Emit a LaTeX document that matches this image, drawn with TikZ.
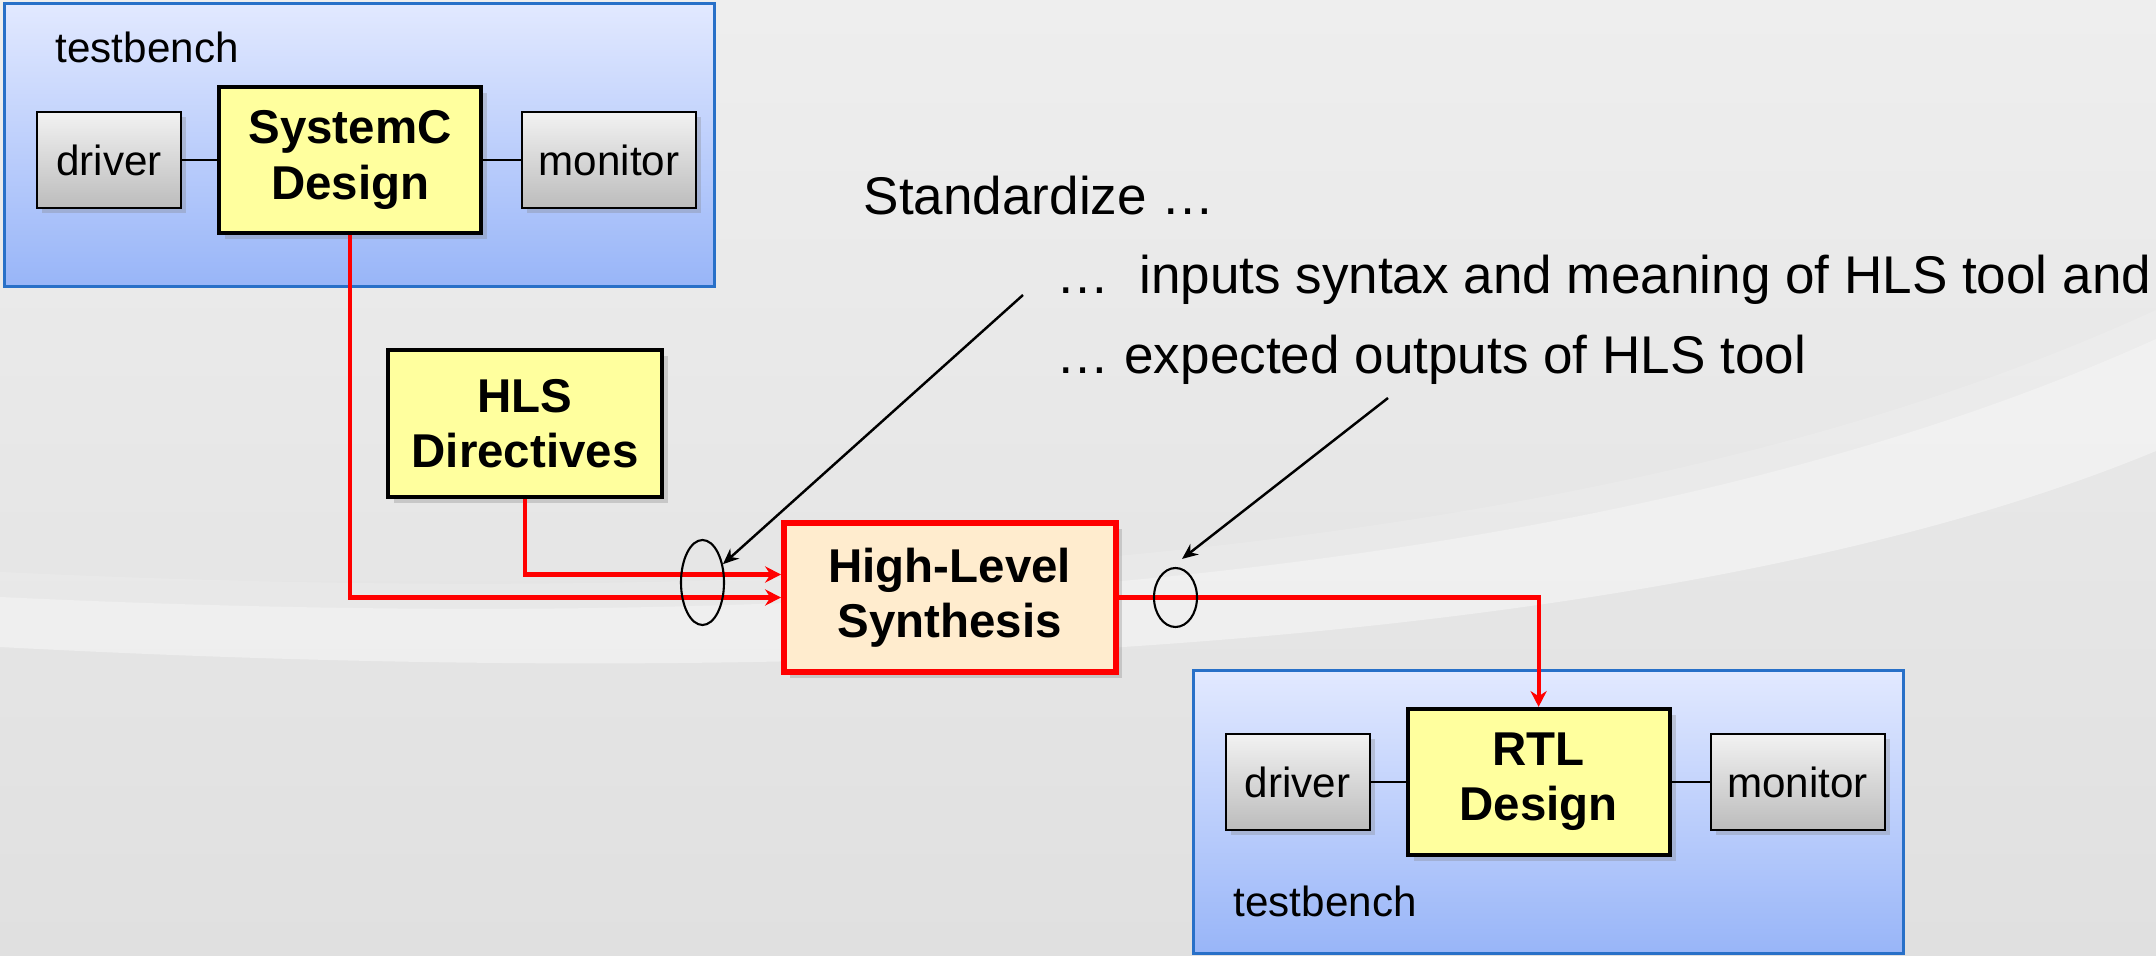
\documentclass[tikz,border=0pt]{standalone}
\usepackage{fontspec}
\setmainfont{Liberation Sans}
\usetikzlibrary{arrows.meta, shadows, shapes.geometric}
\definecolor{slidetop}{RGB}{238,238,238}
\definecolor{slidebottom}{RGB}{224,224,224}
\definecolor{benchtop}{RGB}{226,233,255}
\definecolor{benchbottom}{RGB}{152,181,248}
\definecolor{benchedge}{RGB}{40,112,200}
\definecolor{helpertop}{RGB}{242,242,242}
\definecolor{helperbottom}{RGB}{188,188,188}
\definecolor{designfill}{RGB}{255,255,158}
\definecolor{hlsfill}{RGB}{255,236,206}
\definecolor{flowred}{RGB}{255,0,0}
\newcommand{\plainfont}{\fontsize{12}{14}\selectfont}
\newcommand{\boldfont}{\fontsize{13.5}{15.7}\selectfont\bfseries}
\newcommand{\notefont}{\fontsize{15.1}{18}\selectfont}
\newcommand{\widthdriver}{1.44cm}
\newcommand{\widthmonitor}{1.74cm}
\newcommand{\widthdesign}{2.62cm}
\newcommand{\stepdesign}{1.81cm}
\newcommand{\stepmonitor}{3.04cm}
\tikzset{
    common/.style={anchor=west, draw, rectangle, align=center},
    helper/.style={common, line width=0.6pt, top color=helpertop, bottom color=helperbottom,
        minimum height=0.96cm, font=\plainfont,
        drop shadow={shadow xshift=0.05cm, shadow yshift=-0.05cm, opacity=0.3}},
    design/.style={common, line width=1.2pt, fill=designfill, minimum width=\widthdesign,
        minimum height=1.46cm, font=\boldfont,
        drop shadow={shadow xshift=0.06cm, shadow yshift=-0.06cm, opacity=0.3}},
    hls/.style={design, draw=flowred, line width=1.6pt, fill=hlsfill},
    bench/.style={draw=benchedge, line width=0.8pt, top color=benchtop, bottom color=benchbottom,
        anchor=north west, minimum width=7.1cm, minimum height=2.83cm, inner sep=0},
    benchlabel/.style={anchor=base west, inner sep=0, font=\plainfont},
    note/.style={anchor=base west, inner sep=0, font=\notefont},
    bundle/.style={draw, ellipse, line width=0.6pt, inner sep=0},
    wire/.style={draw, line width=0.6pt},
    flow/.style={draw=flowred, line width=1.2pt, -{Stealth[length=4.5pt, width=4.6pt]}},
    pointer/.style={draw, line width=0.7pt, -{Stealth[length=4.5pt, width=3.8pt]}}
}

\begin{document}
\begin{tikzpicture}
    \useasboundingbox (0,0) rectangle (21.56,-9.56);
    \shade[top color=slidetop, bottom color=slidebottom] (0,0) rectangle (21.56,-9.56);
    \fill[white, opacity=0.15] (0,-5.72) .. controls (8,-6.1) and (16,-5.65) .. (21.56,-3.1)
        -- (21.56,-3.39) .. controls (16,-5.9) and (8,-6.35) .. (0,-5.97) -- cycle;
    \fill[white, opacity=0.4] (0,-5.97) .. controls (8,-6.35) and (16,-5.9) .. (21.56,-3.39)
        -- (21.56,-4.51) .. controls (17,-6.4) and (9,-6.95) .. (0,-6.47) -- cycle;

    \node[bench] (tbTop) at (0.03,-0.02) {};
    \node[bench] (tbBot) at (11.92,-6.69) {};
    \node[benchlabel] (tbTopLabel) at (0.55,-0.63) {testbench};
    \node[benchlabel] (tbBotLabel) at (12.33,-9.16) {testbench};

    \path (0.36,-1.60) node[helper, minimum width=\widthdriver] (drvTop) {driver}
        to ++(0:\stepdesign) node[design] (scDesign) {SystemC\\Design}
        to ++(0:\stepmonitor) node[helper, minimum width=\widthmonitor] (monTop) {monitor};

    \path (12.245,-7.82) node[helper, minimum width=\widthdriver] (drvBot) {driver}
        to ++(0:\stepdesign) node[design] (rtlDesign) {RTL\\Design}
        to ++(0:\stepmonitor) node[helper, minimum width=\widthmonitor] (monBot) {monitor};

    \node[design, minimum width=2.74cm, minimum height=1.47cm] (hlsDir) at (3.86,-4.235) {HLS\\Directives};
    \node[hls, minimum width=3.32cm, minimum height=1.49cm] (hls) at (7.81,-5.975) {High-Level\\Synthesis};

    \draw[wire] (drvTop) -- (scDesign);
    \draw[wire] (scDesign) -- (monTop);
    \draw[wire] (drvBot) -- (rtlDesign);
    \draw[wire] (rtlDesign) -- (monBot);

    \draw[flow] (scDesign.south) |- (hls.west);
    \draw[flow] (hlsDir.south) |- ([yshift=0.23cm]hls.west);
    \draw[flow] (hls.east) -| (rtlDesign.north);

    \node[bundle, minimum width=0.43cm, minimum height=0.85cm] (inBundle) at (7.025,-5.825) {};
    \node[bundle, minimum width=0.43cm, minimum height=0.59cm] (outBundle) at (11.755,-5.975) {};

    \node[note] (stdNote) at (8.63,-2.15) {Standardize …};
    \node[note] (inNote) at (10.56,-2.94) {…~~inputs syntax and meaning of HLS tool and};
    \node[note] (outNote) at (10.56,-3.74) {…~expected outputs of HLS tool};

    \coordinate (inTail) at (10.23,-2.95);
    \coordinate (outTail) at (13.88,-3.98);
    \draw[pointer] (inTail) -- (inBundle);
    \draw[pointer] (outTail) -- ([shift={(0.065,0.08)}]outBundle.north);
\end{tikzpicture}
\end{document}
